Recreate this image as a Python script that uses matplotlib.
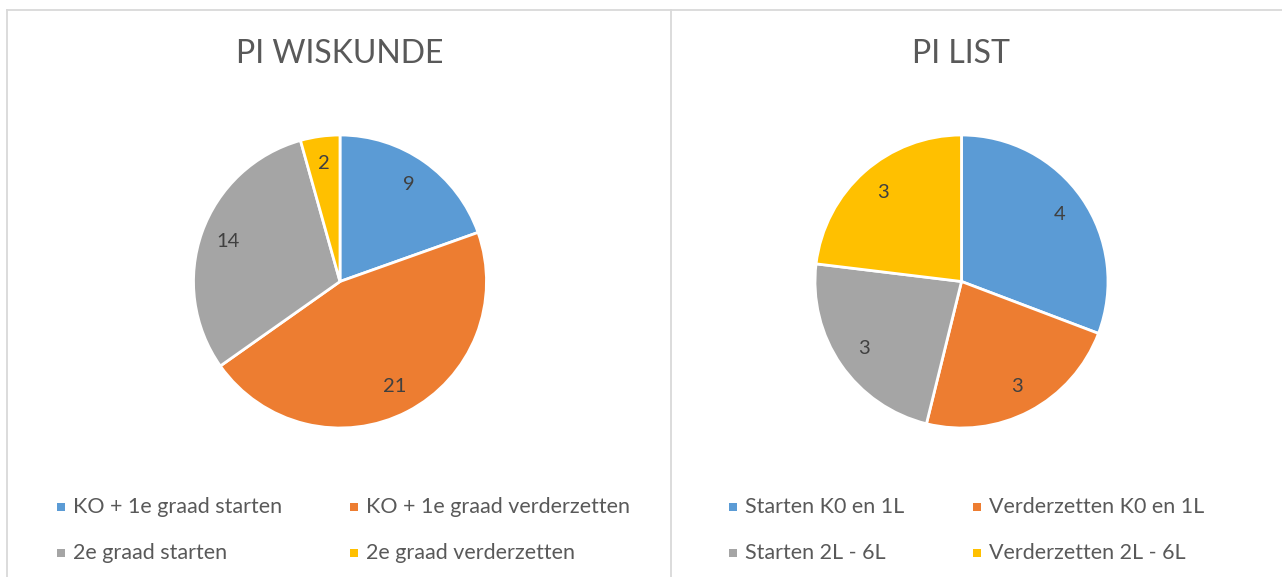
import matplotlib
matplotlib.use("Agg")
import matplotlib.pyplot as plt
from matplotlib.patches import Rectangle
from matplotlib.lines import Line2D

plt.rcParams['font.family'] = ['Lato', 'DejaVu Sans']

# data
titles = ["PI WISKUNDE", "PI LIST"]
wiskunde_labels = ["KO + 1e graad starten", "KO + 1e graad verderzetten",
                   "2e graad starten", "2e graad verderzetten"]
wiskunde_values = [9, 21, 14, 2]
list_labels = ["Starten K0 en 1L", "Verderzetten K0 en 1L",
               "Starten 2L - 6L", "Verderzetten 2L - 6L"]
list_values = [4, 3, 3, 3]
colors = ["#5B9BD5", "#ED7D31", "#A5A5A5", "#FFC000"]

W, H = 1282, 577
fig = plt.figure(figsize=(W / 100, H / 100), dpi=100)
fig.patch.set_facecolor("white")


def px_axes(cx, cy, r):
    # square axes in pixel units, centred on (cx, cy) measured from top-left
    return fig.add_axes([(cx - r) / W, (H - cy - r) / H, 2 * r / W, 2 * r / H])


def draw_panel(cx, cy, title, labels, values, leg_x, leg_x2):
    r = 146.5
    ax = px_axes(cx, cy, r * 1.02)
    total = sum(values)
    ax.pie(values, colors=colors, startangle=90, counterclock=False, radius=1,
           wedgeprops=dict(edgecolor="white", linewidth=2),
           autopct=lambda p: f"{p * total / 100:.0f}", pctdistance=0.81,
           textprops=dict(color="#404040", fontsize=14.5))
    ax.set_xlim(-1.02, 1.02)
    ax.set_ylim(-1.02, 1.02)
    ax.set_aspect("equal")
    ax.axis("off")

    fig.text(cx / W, 1 - 54 / H, title, ha="center", va="center",
             fontsize=23, color="#595959")

    # legend, two columns
    rows_y = [507, 553]
    cols_x = [leg_x, leg_x2]
    for i, lab in enumerate(labels):
        x = cols_x[i % 2]
        y = rows_y[i // 2]
        fig.patches.append(Rectangle((x / W, 1 - (y + 4) / H), 8 / W, 8 / H,
                                     transform=fig.transFigure, facecolor=colors[i],
                                     edgecolor="none"))
        fig.text((x + 16) / W, 1 - y / H, lab, ha="left", va="center",
                 fontsize=15.5, color="#595959")


draw_panel(340, 281.5, titles[0], wiskunde_labels, wiskunde_values, 57, 350)
draw_panel(961.5, 281.5, titles[1], list_labels, list_values, 729, 973)

# chart frames
line_kw = dict(transform=fig.transFigure, color="#D9D9D9", linewidth=1.3)
fig.add_artist(Line2D([7 / W, 1], [1 - 9.5 / H, 1 - 9.5 / H], **line_kw))
fig.add_artist(Line2D([7 / W, 7 / W], [0, 1 - 9.5 / H], **line_kw))
fig.add_artist(Line2D([671 / W, 671 / W], [0, 1 - 9.5 / H], **line_kw))

fig.savefig("out.png", dpi=100, facecolor="white")
